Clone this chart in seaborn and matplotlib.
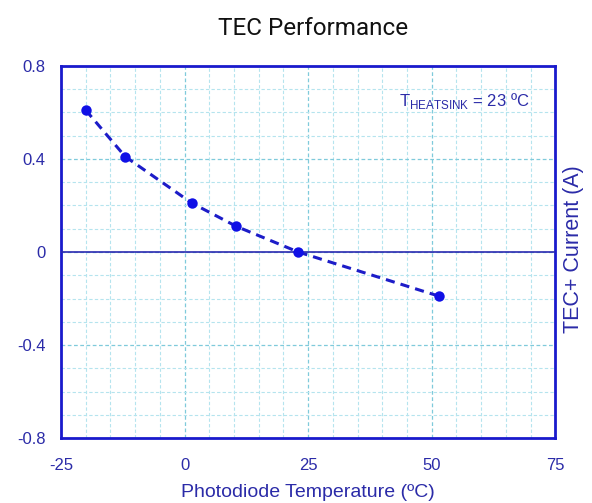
import matplotlib
matplotlib.use("Agg")
import matplotlib.pyplot as plt
import seaborn as sns
import numpy as np
import pandas as pd
from matplotlib.ticker import MultipleLocator

# Data
temperature_c = [-20, -12, 1.5, 10.5, 23, 51.5]
tec_current_a = [0.61, 0.41, 0.21, 0.11, 0.0, -0.19]
x_ticks = [-25, 0, 25, 50, 75]
y_ticks = [-0.8, -0.4, 0, 0.4, 0.8]
y_tick_labels = ["-0.8", "-0.4", "0", "0.4", "0.8"]

sns.set_theme(style="white")
plt.rcParams["font.family"] = ["Liberation Sans", "DejaVu Sans"]
plt.rcParams["mathtext.fontset"] = "custom"
plt.rcParams["mathtext.rm"] = "Liberation Sans"
plt.rcParams["axes.unicode_minus"] = False

blue = "#1a1acc"
text_blue = "#2b2ba8"

fig = plt.figure(figsize=(5.92, 5.03), dpi=100)
ax = fig.add_axes([0.103, 0.129, 0.835, 0.740])

df = pd.DataFrame({"T": temperature_c, "I": tec_current_a})
sns.lineplot(data=df, x="T", y="I", ax=ax, color="#1c1cc8", linestyle=(0, (3, 2)),
             linewidth=2.2, marker="o", markersize=7.5, markeredgewidth=0,
             markerfacecolor="#1010e6", zorder=5)

ax.set_xlim(-25, 75)
ax.set_ylim(-0.8, 0.8)
ax.set_xticks(x_ticks)
ax.set_yticks(y_ticks)
ax.set_yticklabels(y_tick_labels)
ax.xaxis.set_minor_locator(MultipleLocator(5))
ax.yaxis.set_minor_locator(MultipleLocator(0.1))
ax.grid(which="minor", color="#b5e4ee", linestyle=(0, (3, 2)), linewidth=0.8)
ax.grid(which="major", color="#7fcadb", linestyle=(0, (3, 2)), linewidth=0.9)
ax.set_axisbelow(True)
ax.tick_params(which="both", length=0, colors=text_blue, labelsize=12)
ax.tick_params(axis="x", pad=14)
ax.tick_params(axis="y", pad=11)

ax.axhline(0, color="#2a2ab0", linewidth=1.2, zorder=3)
for s in ax.spines.values():
    s.set_color(blue)
    s.set_linewidth(2)
    s.set_visible(True)

ax.set_xlabel("Photodiode Temperature (ºC)", color=text_blue, fontsize=14, labelpad=8)
ax.set_ylabel("")
fig.text(0.968, 0.505, "TEC+ Current (A)", rotation=90, color=text_blue,
         fontsize=15.5, ha="center", va="center")
fig.text(0.528, 0.944, "TEC Performance", ha="center", va="center",
         fontsize=17.5, color="#111111", family=["Roboto", "Liberation Sans"])
ax.text(0.947, 0.905, r"T$_{\mathrm{HEATSINK}}$ = 23 ºC", transform=ax.transAxes,
        ha="right", va="center", color=text_blue, fontsize=12)

fig.savefig("out.png", dpi=100, facecolor="white")
